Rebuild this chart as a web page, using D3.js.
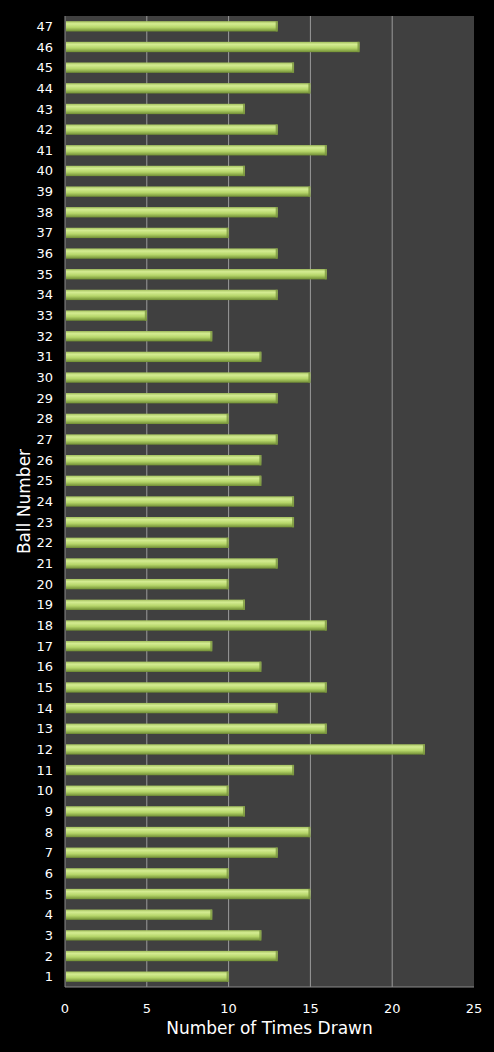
<!DOCTYPE html>
<html>
<head>
<meta charset="utf-8">
<script src="https://cdn.jsdelivr.net/npm/d3@7"></script>
<style>
  body { margin: 0; background: #000; }
  text { font-family: "DejaVu Sans", Verdana, sans-serif; fill: #fff; }
</style>
</head>
<body>
<svg id="chart"></svg>
<script>
const width = 494;
const height = 1052;

const balls = d3.range(1, 48);
const counts = [10, 13, 12, 9, 15, 10, 13, 15, 11, 10,
                14, 22, 16, 13, 16, 12, 9, 16, 11, 10,
                13, 10, 14, 14, 12, 12, 13, 10, 13, 15,
                12, 9, 5, 13, 16, 13, 10, 13, 15, 11,
                16, 13, 11, 15, 14, 18, 13];
const xTicks = [0, 5, 10, 15, 20, 25];

const data = balls.map((b, i) => ({ ball: b, count: counts[i] }));

const margin = { top: 16, right: 20, bottom: 65, left: 65 };
const innerW = width - margin.left - margin.right;
const innerH = height - margin.top - margin.bottom;

const svg = d3.select('#chart').attr('width', width).attr('height', height);

// bar gradient, light top to darker bottom
const defs = svg.append('defs');
const grad = defs.append('linearGradient')
  .attr('id', 'barGrad')
  .attr('x1', 0).attr('y1', 0).attr('x2', 0).attr('y2', 1);
grad.append('stop').attr('offset', '0%').attr('stop-color', '#a3c05e');
grad.append('stop').attr('offset', '25%').attr('stop-color', '#d4ec92');
grad.append('stop').attr('offset', '60%').attr('stop-color', '#b6d66a');
grad.append('stop').attr('offset', '100%').attr('stop-color', '#708d34');

const g = svg.append('g')
  .attr('transform', `translate(${margin.left},${margin.top})`);

const x = d3.scaleLinear().domain([0, 25]).range([0, innerW]);
const y = d3.scaleBand()
  .domain(balls.slice().reverse())
  .range([0, innerH])
  .paddingInner(0.5)
  .paddingOuter(0.25);

g.append('rect')
  .attr('width', innerW)
  .attr('height', innerH)
  .attr('fill', '#404040');

// gridlines
g.selectAll('.grid')
  .data(xTicks.slice(1, -1))
  .enter()
  .append('line')
  .attr('class', 'grid')
  .attr('x1', d => x(d)).attr('x2', d => x(d))
  .attr('y1', 0).attr('y2', innerH)
  .attr('stroke', '#9a9a9a')
  .attr('stroke-width', 1);

// axis lines
g.append('line')
  .attr('x1', 0).attr('x2', 0).attr('y1', 0).attr('y2', innerH)
  .attr('stroke', '#8a8a8a');
g.append('line')
  .attr('x1', 0).attr('x2', innerW).attr('y1', innerH).attr('y2', innerH)
  .attr('stroke', '#8a8a8a');

const bar = g.selectAll('.bar')
  .data(data)
  .enter()
  .append('g')
  .attr('class', 'bar')
  .attr('transform', d => `translate(1,${y(d.ball)})`);

bar.append('rect')
  .attr('width', d => x(d.count) - 1)
  .attr('height', y.bandwidth())
  .attr('fill', 'url(#barGrad)');

bar.append('rect')
  .attr('x', d => x(d.count) - 3)
  .attr('width', 2)
  .attr('height', y.bandwidth())
  .attr('fill', '#7b9640')
  .attr('opacity', 0.8);

// y labels
g.selectAll('.ylab')
  .data(balls)
  .enter()
  .append('text')
  .attr('class', 'ylab')
  .attr('x', -12)
  .attr('y', d => y(d) + y.bandwidth() / 2)
  .attr('dy', '0.35em')
  .attr('text-anchor', 'end')
  .style('font-size', '13px')
  .text(d => d);

// x labels
g.selectAll('.xlab')
  .data(xTicks)
  .enter()
  .append('text')
  .attr('class', 'xlab')
  .attr('x', d => x(d))
  .attr('y', innerH + 26)
  .attr('text-anchor', 'middle')
  .style('font-size', '13px')
  .text(d => d);

svg.append('text')
  .attr('x', margin.left + innerW / 2)
  .attr('y', 1034)
  .attr('text-anchor', 'middle')
  .style('font-size', '17px')
  .text('Number of Times Drawn');

svg.append('text')
  .attr('transform', `translate(30,${margin.top + innerH / 2}) rotate(-90)`)
  .attr('text-anchor', 'middle')
  .style('font-size', '17px')
  .text('Ball Number');
</script>
</body>
</html>
